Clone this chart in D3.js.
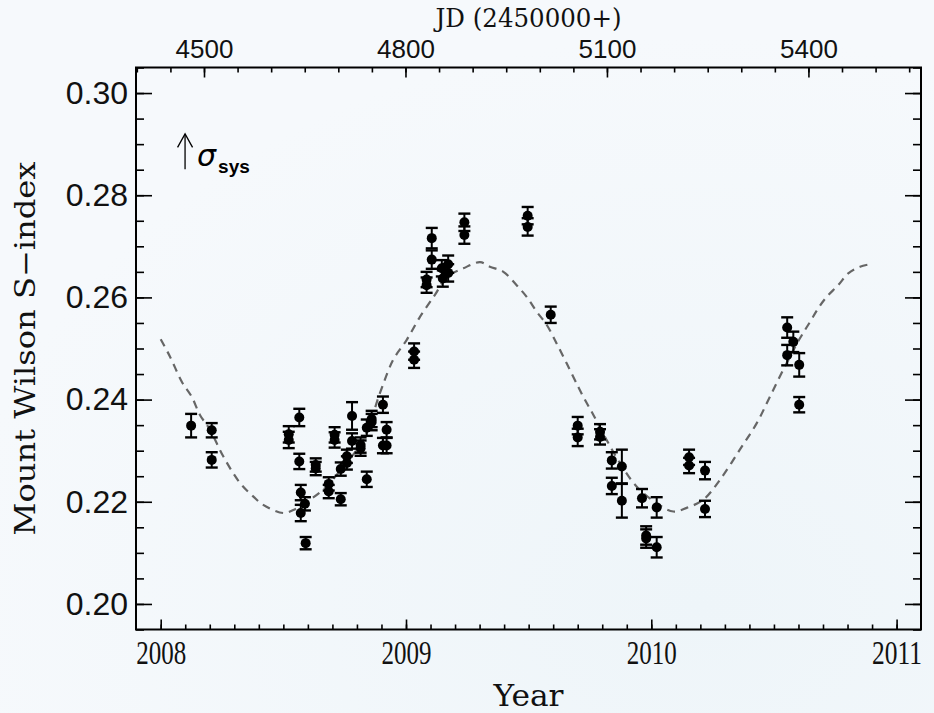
<!DOCTYPE html>
<html>
<head>
<meta charset="utf-8">
<script src="https://cdn.jsdelivr.net/npm/d3@7"></script>
<style>
  html, body { margin: 0; padding: 0; background: #f4f8fb; }
</style>
</head>
<body>
<div id="chart"></div>
<script>
// observation epochs (decimal year), S-index and 1-sigma errors
let obsYear = [2008.124, 2008.208, 2008.208, 2008.522, 2008.522, 2008.565, 2008.565, 2008.571, 2008.588, 2008.571,
  2008.591, 2008.632, 2008.632, 2008.685, 2008.685, 2008.709, 2008.709, 2008.734, 2008.734, 2008.759,
  2008.759, 2008.780, 2008.780, 2008.815, 2008.815, 2008.840, 2008.840, 2008.860, 2008.860, 2008.906,
  2008.906, 2008.921, 2008.921, 2009.033, 2009.033, 2009.084, 2009.084, 2009.105, 2009.105, 2009.146,
  2009.150, 2009.172, 2009.172, 2009.238, 2009.238, 2009.496, 2009.496, 2009.590, 2009.700, 2009.700,
  2009.791, 2009.791, 2009.839, 2009.839, 2009.880, 2009.880, 2009.962, 2009.979, 2009.979, 2010.022,
  2010.022, 2010.154, 2010.154, 2010.219, 2010.219, 2010.554, 2010.554, 2010.579, 2010.603, 2010.603];

let obsS = [0.2349, 0.2340, 0.2282, 0.2332, 0.2321, 0.2365, 0.2279, 0.2218, 0.2196, 0.2178,
  0.2119, 0.2272, 0.2265, 0.2235, 0.2220, 0.2331, 0.2321, 0.2264, 0.2205, 0.2289,
  0.2276, 0.2368, 0.2319, 0.2311, 0.2305, 0.2345, 0.2244, 0.2362, 0.2356, 0.2390,
  0.2310, 0.2310, 0.2341, 0.2494, 0.2478, 0.2635, 0.2624, 0.2716, 0.2674, 0.2657,
  0.2637, 0.2665, 0.2648, 0.2747, 0.2722, 0.2760, 0.2738, 0.2566, 0.2349, 0.2326,
  0.2337, 0.2327, 0.2281, 0.2231, 0.2269, 0.2202, 0.2207, 0.2134, 0.2128, 0.2189,
  0.2111, 0.2287, 0.2271, 0.2261, 0.2186, 0.2541, 0.2487, 0.2513, 0.2468, 0.2390];

let obsErr = [0.0023, 0.0014, 0.0015, 0.0016, 0.0016, 0.0017, 0.0015, 0.0015, 0.0013, 0.0016,
  0.0012, 0.0013, 0.0013, 0.0013, 0.0013, 0.0015, 0.0015, 0.0013, 0.0012, 0.0013,
  0.0013, 0.0027, 0.0015, 0.0015, 0.0015, 0.0016, 0.0015, 0.0016, 0.0016, 0.0016,
  0.0015, 0.0015, 0.0015, 0.0016, 0.0016, 0.0015, 0.0015, 0.0020, 0.0018, 0.0016,
  0.0016, 0.0017, 0.0017, 0.0017, 0.0017, 0.0017, 0.0017, 0.0016, 0.0017, 0.0017,
  0.0015, 0.0015, 0.0016, 0.0016, 0.0033, 0.0033, 0.0018, 0.0018, 0.0018, 0.0020,
  0.0020, 0.0015, 0.0015, 0.0017, 0.0016, 0.0020, 0.0020, 0.0020, 0.0023, 0.0015];

// dashed cycle fit
let modelYear = [2008.000, 2008.038, 2008.086, 2008.126, 2008.160, 2008.201, 2008.255, 2008.323, 2008.378, 2008.418,
  2008.500, 2008.541, 2008.609, 2008.677, 2008.744, 2008.826, 2008.894, 2008.948, 2009.003, 2009.057,
  2009.118, 2009.166, 2009.234, 2009.302, 2009.342, 2009.397, 2009.451, 2009.492, 2009.533, 2009.574,
  2009.614, 2009.655, 2009.702, 2009.730, 2009.764, 2009.818, 2009.872, 2009.940, 2010.022, 2010.090,
  2010.144, 2010.212, 2010.280, 2010.361, 2010.430, 2010.484, 2010.545, 2010.606, 2010.647, 2010.681,
  2010.715, 2010.762, 2010.803, 2010.851, 2010.892];
let modelS = [0.2518, 0.2484, 0.2435, 0.2406, 0.2370, 0.2341, 0.2289, 0.2237, 0.2210, 0.2194,
  0.2178, 0.2184, 0.2204, 0.2230, 0.2269, 0.2321, 0.2413, 0.2478, 0.2517, 0.2562,
  0.2605, 0.2640, 0.2657, 0.2669, 0.2660, 0.2650, 0.2624, 0.2601, 0.2572, 0.2546,
  0.2510, 0.2471, 0.2425, 0.2399, 0.2370, 0.2321, 0.2276, 0.2230, 0.2197, 0.2181,
  0.2188, 0.2204, 0.2243, 0.2302, 0.2354, 0.2406, 0.2465, 0.2520, 0.2552, 0.2579,
  0.2601, 0.2624, 0.2647, 0.2660, 0.2665];

// axis ticks
let yearTicks = [2008, 2009, 2010, 2011];
let jdTicks = [4500, 4800, 5100, 5400];
let sTicks = [0.20, 0.22, 0.24, 0.26, 0.28, 0.30];

let yearRange = [2007.8993, 2011.0995];
let sRange = [0.195, 0.305];
let jdAt2008 = 4435.53;  // JD-2450000 that lines up with the 2008 tick
let sigmaSys = 0.0069;   // length of the systematic error arrow

function draw() {
    let W = 934, H = 713;
    let left = 136, top = 67.5, right = 921, bottom = 629.5;

    let svg = d3.select("#chart")
        .append("svg")
        .attr("width", W)
        .attr("height", H)
        .style("display", "block");

    // faint bluish wash like the slide background
    let grad = svg.append("defs").append("radialGradient")
        .attr("id", "bg").attr("cx", "75%").attr("cy", "85%").attr("r", "80%");
    grad.append("stop").attr("offset", "0%").attr("stop-color", "#eef5f9");
    grad.append("stop").attr("offset", "100%").attr("stop-color", "#f6f9fc");
    svg.append("rect").attr("width", W).attr("height", H).attr("fill", "url(#bg)");

    let x = d3.scaleLinear().domain(yearRange).range([left, right]);
    let y = d3.scaleLinear().domain(sRange).range([bottom, top]);
    let xJD = d3.scaleLinear()
        .domain(yearRange.map(function(v) { return jdAt2008 + (v - 2008) * 365.25; }))
        .range([left, right]);

    // minor ticks first (no labels)
    let yearMinor = d3.range(2008, 2011.01, 0.1).filter(function(v) { return v <= yearRange[1]; });
    let jdMinor = d3.range(4400, 5600, 50).filter(function(v) { return v >= xJD.domain()[0] && v <= xJD.domain()[1]; });
    let sMinor = d3.range(0.195, 0.3051, 0.005);

    function minor(g) {
        g.select(".domain").remove();
        g.selectAll("line").attr("stroke", "#000").attr("stroke-width", 1.6);
    }

    svg.append("g").attr("transform", "translate(0," + bottom + ")")
        .call(d3.axisBottom(x).tickValues(yearMinor).tickSize(-5).tickFormat(""))
        .call(minor);
    svg.append("g").attr("transform", "translate(0," + top + ")")
        .call(d3.axisTop(xJD).tickValues(jdMinor).tickSize(-5).tickFormat(""))
        .call(minor);
    svg.append("g").attr("transform", "translate(" + left + ",0)")
        .call(d3.axisLeft(y).tickValues(sMinor).tickSize(-8).tickFormat(""))
        .call(minor);
    svg.append("g").attr("transform", "translate(" + right + ",0)")
        .call(d3.axisRight(y).tickValues(sMinor).tickSize(-8).tickFormat(""))
        .call(minor);

    // major ticks + labels
    let xAxis = svg.append("g").attr("transform", "translate(0," + bottom + ")")
        .call(d3.axisBottom(x).tickValues(yearTicks).tickSize(-10).tickPadding(14).tickFormat(d3.format("d")));
    xAxis.select(".domain").remove();
    xAxis.selectAll("line").attr("stroke", "#000").attr("stroke-width", 1.6);
    xAxis.selectAll("text")
        .attr("fill", "#111")
        .style("font-family", "'Liberation Serif', 'Times New Roman', serif")
        .style("font-size", "33px")
        .attr("textLength", 50)
        .attr("lengthAdjust", "spacingAndGlyphs")
        .attr("dy", "0.62em");

    let topAxis = svg.append("g").attr("transform", "translate(0," + top + ")")
        .call(d3.axisTop(xJD).tickValues(jdTicks).tickSize(-10).tickPadding(10).tickFormat(d3.format("d")));
    topAxis.select(".domain").remove();
    topAxis.selectAll("line").attr("stroke", "#000").attr("stroke-width", 1.6);
    topAxis.selectAll("text")
        .attr("fill", "#111")
        .style("font-family", "'Liberation Sans', Arial, sans-serif")
        .style("font-size", "26px");

    let yAxis = svg.append("g").attr("transform", "translate(" + left + ",0)")
        .call(d3.axisLeft(y).tickValues(sTicks).tickSize(-16).tickPadding(8).tickFormat(d3.format(".2f")));
    yAxis.select(".domain").remove();
    yAxis.selectAll("line").attr("stroke", "#000").attr("stroke-width", 1.6);
    yAxis.selectAll("text")
        .attr("fill", "#111")
        .style("font-family", "'Liberation Sans', Arial, sans-serif")
        .style("font-size", "32px");

    let yAxisR = svg.append("g").attr("transform", "translate(" + right + ",0)")
        .call(d3.axisRight(y).tickValues(sTicks).tickSize(-16).tickFormat(""));
    yAxisR.select(".domain").remove();
    yAxisR.selectAll("line").attr("stroke", "#000").attr("stroke-width", 1.6);

    // frame
    svg.append("rect")
        .attr("x", left).attr("y", top)
        .attr("width", right - left).attr("height", bottom - top)
        .attr("fill", "none").attr("stroke", "#000").attr("stroke-width", 2);

    // axis titles
    svg.append("text")
        .attr("x", (left + right) / 2).attr("y", 27)
        .attr("text-anchor", "middle")
        .attr("textLength", 186).attr("lengthAdjust", "spacingAndGlyphs")
        .style("font-family", "'DejaVu Serif', serif").style("font-size", "26px")
        .attr("fill", "#111")
        .text("JD (2450000+)");

    svg.append("text")
        .attr("x", (left + right) / 2).attr("y", 706)
        .attr("text-anchor", "middle")
        .attr("textLength", 70).attr("lengthAdjust", "spacingAndGlyphs")
        .style("font-family", "'DejaVu Serif', serif").style("font-size", "29px")
        .attr("fill", "#111")
        .text("Year");

    svg.append("text")
        .attr("transform", "translate(35," + (top + bottom) / 2 + ") rotate(-90)")
        .attr("text-anchor", "middle")
        .attr("textLength", 374).attr("lengthAdjust", "spacingAndGlyphs")
        .style("font-family", "'DejaVu Serif', serif").style("font-size", "28px")
        .attr("fill", "#111")
        .text("Mount Wilson S\u2212index");

    // dashed fit
    let line = d3.line()
        .x(function(d) { return x(d[0]); })
        .y(function(d) { return y(d[1]); })
        .curve(d3.curveCatmullRom);
    svg.append("path")
        .datum(d3.zip(modelYear, modelS))
        .attr("d", line)
        .attr("fill", "none")
        .attr("stroke", "#666")
        .attr("stroke-width", 2.2)
        .attr("stroke-dasharray", "8,6");

    // error bars + points
    let obs = d3.range(obsYear.length).map(function(i) {
        return {t: obsYear[i], s: obsS[i], e: obsErr[i]};
    });
    let bars = svg.append("g").attr("stroke", "#000").attr("stroke-width", 2);
    bars.selectAll(".stem").data(obs).enter().append("line")
        .attr("x1", function(d) { return x(d.t); }).attr("x2", function(d) { return x(d.t); })
        .attr("y1", function(d) { return y(d.s - d.e); }).attr("y2", function(d) { return y(d.s + d.e); });
    bars.selectAll(".capT").data(obs).enter().append("line")
        .attr("x1", function(d) { return x(d.t) - 6; }).attr("x2", function(d) { return x(d.t) + 6; })
        .attr("y1", function(d) { return y(d.s + d.e); }).attr("y2", function(d) { return y(d.s + d.e); })
        .attr("stroke-width", 2.4);
    bars.selectAll(".capB").data(obs).enter().append("line")
        .attr("x1", function(d) { return x(d.t) - 6; }).attr("x2", function(d) { return x(d.t) + 6; })
        .attr("y1", function(d) { return y(d.s - d.e); }).attr("y2", function(d) { return y(d.s - d.e); })
        .attr("stroke-width", 2.4);
    svg.append("g").selectAll("circle").data(obs).enter().append("circle")
        .attr("cx", function(d) { return x(d.t); })
        .attr("cy", function(d) { return y(d.s); })
        .attr("r", 5)
        .attr("fill", "#000");

    // sigma_sys arrow
    let ax = x(2008.0993), a0 = y(0.2851), a1 = y(0.2851 + sigmaSys);
    let arrow = svg.append("g").attr("stroke", "#000").attr("stroke-width", 1.3).attr("fill", "none");
    arrow.append("line").attr("x1", ax).attr("x2", ax).attr("y1", a0).attr("y2", a1);
    arrow.append("path").attr("d", "M" + (ax - 7.5) + "," + (a1 + 13.5) + "L" + ax + "," + a1 + "L" + (ax + 7.5) + "," + (a1 + 13.5));

    let lab = svg.append("text").attr("x", ax + 12).attr("y", a0 - 3).attr("fill", "#000");
    lab.append("tspan")
        .style("font-family", "'DejaVu Sans', sans-serif").style("font-style", "italic")
        .style("font-size", "30px")
        .text("\u03c3");
    lab.append("tspan")
        .attr("dy", 7).attr("dx", 2)
        .style("font-family", "'Liberation Sans', Arial, sans-serif").style("font-weight", "bold")
        .style("font-size", "19px")
        .text("sys");
}

window.onload = function() { draw(); };
</script>
</body>
</html>
